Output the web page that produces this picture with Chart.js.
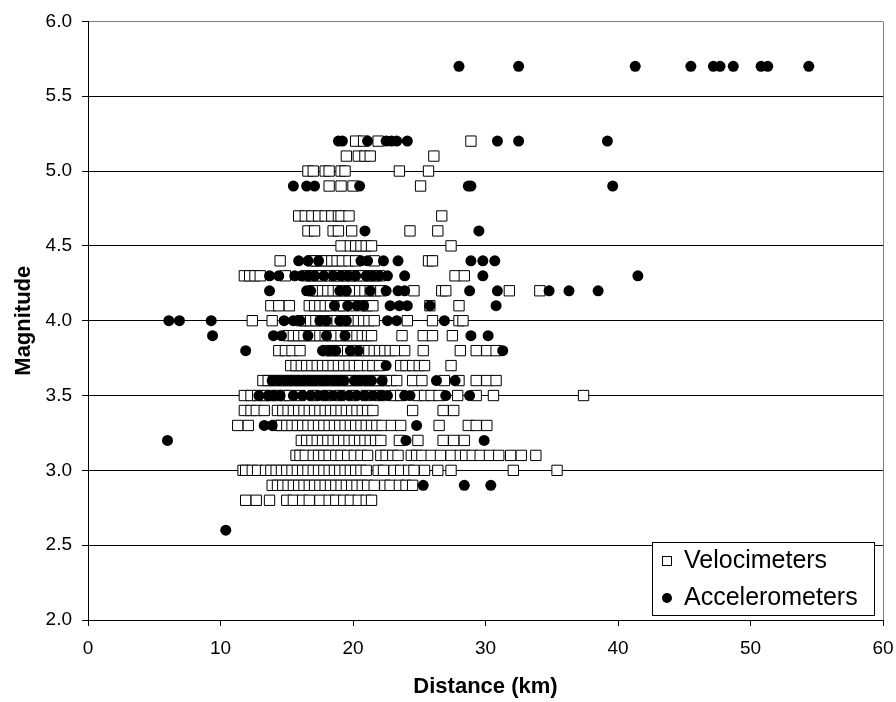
<!DOCTYPE html>
<html>
<head>
<meta charset="utf-8">
<script src="https://cdn.jsdelivr.net/npm/chart.js@4.4.0/dist/chart.umd.min.js"></script>
<style>
  body { margin: 0; background: #fff; }
  canvas { display: block; }
</style>
</head>
<body>
<canvas id="grafico" width="896" height="702"></canvas>
<script>
// Magnitud de cada fila del gráfico (los eventos están en pasos de 0.1)
const magnitudes = [5.7, 5.2, 5.1, 5.0, 4.9, 4.7, 4.6, 4.5, 4.4, 4.3, 4.2, 4.1, 4.0,
  3.9, 3.8, 3.7, 3.6, 3.5, 3.4, 3.3, 3.2, 3.1, 3.0, 2.9, 2.8, 2.6];

// Distancias (km) de los velocímetros, una lista por magnitud
const velDistances = [
  [],
  [20.2, 20.8, 21.9, 28.9],
  [19.5, 20.4, 20.9, 21.3, 26.1],
  [16.6, 17.0, 17.9, 18.2, 19.1, 19.4, 23.5, 25.7],
  [18.2, 19.1, 20.0, 25.1],
  [15.9, 16.4, 16.9, 17.4, 17.9, 18.4, 18.9, 19.1, 19.7, 26.7],
  [16.6, 17.1, 18.5, 18.9, 19.9, 24.3, 26.4],
  [19.1, 19.8, 20.2, 20.6, 21.0, 21.4, 27.4],
  [14.5, 16.9, 17.2, 17.6, 18.0, 18.4, 18.8, 19.2, 19.7, 20.2, 21.6, 25.7, 26.0],
  [11.8, 12.2, 12.6, 13.0, 14.9, 16.5, 16.9, 17.3, 17.7, 18.2, 18.6, 19.0, 19.5, 19.9, 20.3, 20.8, 21.2, 21.6, 22.0, 27.7, 28.4],
  [17.0, 17.3, 17.7, 18.1, 18.5, 18.9, 19.3, 19.7, 20.1, 20.5, 20.9, 21.3, 21.7, 22.1, 24.6, 26.7, 27.0, 31.8, 34.1],
  [13.8, 14.4, 15.2, 16.7, 17.1, 17.5, 17.9, 18.3, 19.0, 19.3, 19.9, 20.7, 21.1, 21.5, 25.8, 28.0],
  [12.4, 13.9, 16.1, 16.4, 16.8, 17.2, 17.6, 18.0, 18.4, 18.8, 19.2, 19.6, 20.0, 20.4, 20.8, 21.2, 21.6, 24.1, 26.0, 28.0, 28.3],
  [15.1, 15.5, 15.9, 16.3, 16.7, 17.1, 17.5, 17.9, 18.3, 18.7, 19.1, 19.5, 19.9, 20.3, 20.7, 21.1, 21.4, 23.7, 25.3, 26.0, 27.5],
  [14.4, 14.9, 15.4, 16.0, 18.0, 18.4, 18.8, 19.2, 19.6, 20.0, 20.4, 20.8, 21.2, 21.6, 22.0, 22.4, 22.8, 23.2, 23.9, 25.3, 28.1, 29.3, 30.1, 30.8],
  [15.3, 15.7, 16.1, 16.5, 16.9, 17.3, 17.7, 18.1, 18.5, 18.9, 19.3, 19.7, 20.1, 20.5, 21.1, 21.5, 22.0, 23.6, 24.0, 24.5, 25.0, 25.4, 27.4],
  [13.2, 13.6, 14.0, 14.4, 14.8, 15.2, 15.6, 16.0, 16.4, 16.8, 17.2, 17.6, 18.0, 18.4, 18.8, 19.2, 19.6, 20.0, 20.4, 20.8, 21.2, 21.6, 22.0, 22.4, 22.9, 23.3, 24.5, 25.2, 26.9, 28.0, 29.3, 30.1, 30.8],
  [11.8, 12.3, 12.8, 13.3, 13.8, 14.3, 14.8, 15.2, 16.0, 17.0, 18.0, 19.0, 20.0, 21.0, 22.0, 23.1, 23.6, 24.9, 25.4, 25.9, 26.5, 27.9, 29.3, 30.6, 37.4],
  [11.8, 12.3, 12.7, 13.3, 14.3, 14.7, 15.1, 15.5, 15.9, 16.3, 16.7, 17.1, 17.5, 17.9, 18.3, 18.7, 19.1, 19.5, 19.9, 20.3, 20.7, 21.1, 21.5, 24.5, 26.8, 27.6],
  [11.3, 12.1, 14.2, 14.6, 15.0, 15.4, 15.8, 16.2, 16.6, 17.0, 17.4, 17.8, 18.2, 18.6, 19.0, 19.4, 19.8, 20.2, 20.6, 21.0, 21.4, 21.8, 22.2, 22.9, 23.6, 26.5, 28.7, 29.3, 30.1],
  [16.1, 16.5, 16.9, 17.3, 17.7, 18.1, 18.5, 18.9, 19.3, 19.7, 20.1, 20.5, 20.9, 21.3, 21.7, 22.1, 23.5, 24.9, 26.8, 27.6, 28.4],
  [15.7, 16.0, 16.4, 17.0, 17.4, 17.8, 18.2, 18.7, 19.1, 19.6, 20.1, 20.6, 21.1, 22.1, 22.5, 23.0, 23.4, 24.4, 24.8, 25.2, 25.9, 26.6, 27.4, 28.1, 28.5, 29.0, 29.6, 30.3, 31.0, 31.9, 32.7, 33.8],
  [11.7, 11.9, 12.4, 12.8, 13.4, 13.8, 14.2, 14.6, 15.0, 15.4, 15.8, 16.2, 16.6, 17.0, 17.4, 17.8, 18.2, 18.6, 19.0, 19.4, 19.8, 20.2, 20.6, 21.0, 21.9, 22.3, 23.1, 23.6, 24.2, 24.6, 25.4, 26.4, 27.4, 32.1, 35.4],
  [13.9, 14.3, 14.7, 15.1, 15.5, 15.9, 16.3, 16.7, 17.1, 17.5, 17.9, 18.3, 18.7, 19.1, 19.5, 19.9, 20.3, 20.7, 21.1, 21.6, 22.4, 22.8, 23.5, 24.0, 24.5],
  [11.9, 12.7, 13.7, 15.0, 15.5, 16.2, 16.7, 17.5, 18.2, 18.7, 19.3, 19.8, 20.4, 21.0, 21.4],
  []
];

// Distancias (km) de los acelerómetros, una lista por magnitud
const accDistances = [
  [28.0, 32.5, 41.3, 45.5, 47.2, 47.7, 48.7, 50.8, 51.3, 54.4],
  [18.9, 19.2, 21.1, 22.5, 22.9, 23.3, 24.1, 30.9, 32.5, 39.2],
  [],
  [],
  [15.5, 16.5, 17.1, 20.5, 28.7, 28.9, 39.6],
  [],
  [20.9, 29.5],
  [],
  [15.9, 16.6, 17.4, 20.6, 21.1, 22.3, 23.4, 28.9, 29.8, 30.7],
  [13.7, 14.4, 15.6, 16.1, 16.6, 17.1, 17.8, 18.5, 19.1, 19.6, 20.2, 21.0, 21.5, 22.0, 22.6, 23.9, 29.8, 41.5],
  [13.7, 16.5, 16.8, 19.0, 19.5, 21.3, 22.5, 23.4, 23.9, 28.8, 30.9, 34.8, 36.3, 38.5],
  [18.6, 19.6, 20.3, 20.8, 22.8, 23.5, 24.1, 25.8, 30.8],
  [6.1, 6.9, 9.3, 14.8, 15.5, 16.0, 17.5, 18.0, 19.0, 19.5, 22.6, 23.3, 26.9],
  [9.4, 14.0, 14.6, 16.6, 18.0, 19.4, 28.9, 30.2],
  [11.9, 17.7, 18.2, 18.7, 19.8, 20.4, 31.3],
  [22.5],
  [13.9, 14.4, 14.9, 15.3, 15.8, 16.2, 16.7, 17.1, 17.6, 18.0, 18.5, 18.9, 19.3, 20.1, 20.5, 21.0, 21.4, 22.2, 26.3, 27.7],
  [12.9, 13.6, 14.0, 14.5, 15.5, 16.2, 16.8, 17.4, 17.9, 18.5, 19.1, 19.7, 20.3, 20.9, 21.5, 22.1, 22.6, 23.9, 24.3, 27.0, 28.8],
  [],
  [13.3, 13.9, 24.8],
  [6.0, 24.0, 29.9],
  [],
  [],
  [25.3, 28.4, 30.4],
  [],
  [10.4]
];

const seriesLabels = ['Velocimeters', 'Accelerometers'];
const xTicks = [0, 10, 20, 30, 40, 50, 60];
const yTicks = [2.0, 2.5, 3.0, 3.5, 4.0, 4.5, 5.0, 5.5, 6.0];

const FUENTE = "'Liberation Sans', Arial, sans-serif";

// Convierte las listas por fila en puntos {x, y}
function aPuntos(listas) {
  const puntos = [];
  listas.forEach(function (fila, i) {
    fila.forEach(function (d) { puntos.push({ x: d, y: magnitudes[i] }); });
  });
  return puntos;
}

// Leyenda dibujada dentro del área del gráfico, abajo a la derecha
const leyendaInterna = {
  id: 'leyendaInterna',
  afterDraw(chart) {
    const ctx = chart.ctx;
    const area = chart.chartArea;
    const x0 = Math.round(area.right) - 231, y0 = Math.round(area.bottom) - 78, w = 222, h = 73;
    ctx.save();
    ctx.fillStyle = '#fff';
    ctx.fillRect(x0, y0, w, h);
    ctx.strokeStyle = '#000';
    ctx.lineWidth = 1;
    ctx.strokeRect(x0 + 0.5, y0 + 0.5, w, h);

    ctx.font = '25px ' + FUENTE;
    ctx.textBaseline = 'middle';
    chart.data.datasets.forEach(function (ds, i) {
      const cy = y0 + 19 + i * 37;
      const cx = x0 + 15;
      if (ds.pointStyle === 'rect') {
        ctx.fillStyle = '#fff';
        ctx.fillRect(cx - 5, cy - 5, 10, 10);
        ctx.strokeRect(cx - 4.5, cy - 4.5, 9, 9);
      } else {
        ctx.beginPath();
        ctx.arc(cx, cy, 5, 0, Math.PI * 2);
        ctx.fillStyle = '#000';
        ctx.fill();
      }
      ctx.fillStyle = '#000';
      ctx.fillText(ds.label, x0 + 32, cy);
    });
    ctx.restore();
  }
};

// Borde gris a la derecha del área del gráfico
const bordeDerecho = {
  id: 'bordeDerecho',
  beforeDatasetsDraw(chart) {
    const ctx = chart.ctx;
    const a = chart.chartArea;
    ctx.save();
    ctx.strokeStyle = '#808080';
    ctx.lineWidth = 1;
    ctx.beginPath();
    ctx.moveTo(Math.round(a.right) + 0.5, a.top);
    ctx.lineTo(Math.round(a.right) + 0.5, a.bottom);
    ctx.stroke();
    ctx.restore();
  }
};

new Chart(document.getElementById('grafico'), {
  type: 'scatter',
  data: {
    datasets: [
      {
        label: seriesLabels[0],
        data: aPuntos(velDistances),
        order: 2,
        pointStyle: 'rect',
        pointRadius: 7.3,
        pointHoverRadius: 7.3,
        backgroundColor: '#fff',
        borderColor: '#000',
        borderWidth: 1
      },
      {
        label: seriesLabels[1],
        data: aPuntos(accDistances),
        order: 1,
        pointStyle: 'circle',
        pointRadius: 5.5,
        pointHoverRadius: 5.5,
        backgroundColor: '#000',
        borderColor: '#000',
        borderWidth: 0
      }
    ]
  },
  options: {
    responsive: false,
    animation: false,
    devicePixelRatio: 1,
    layout: { padding: { top: 19, right: 13, left: 0, bottom: 0 } },
    plugins: {
      legend: { display: false },
      tooltip: { enabled: false }
    },
    scales: {
      x: {
        type: 'linear',
        min: 0,
        max: 60,
        afterBuildTicks(scale) { scale.ticks = xTicks.map(function (v) { return { value: v }; }); },
        afterFit(scale) {
          scale.height = 82;
          scale.paddingLeft = 0;
          scale.paddingRight = 0;
        },
        border: { color: '#000', width: 1 },
        grid: { drawOnChartArea: false, drawTicks: true, tickLength: 6, tickColor: '#000' },
        ticks: {
          color: '#000',
          padding: 11,
          font: { family: FUENTE, size: 19 },
          callback: function (v) { return String(v); }
        },
        title: {
          display: true,
          text: 'Distance (km)',
          color: '#000',
          font: { family: FUENTE, size: 22, weight: 'bold' },
          padding: { top: 0, bottom: 2 }
        }
      },
      y: {
        type: 'linear',
        min: 2,
        max: 6,
        afterBuildTicks(scale) { scale.ticks = yTicks.map(function (v) { return { value: v }; }); },
        afterFit(scale) { scale.width = 88; },
        border: { color: '#000', width: 1 },
        grid: {
          color: function (c) { return c.tick && c.tick.value === 6 ? '#808080' : '#000'; },
          lineWidth: 1,
          drawTicks: true,
          tickLength: 6,
          tickColor: '#000'
        },
        ticks: {
          color: '#000',
          padding: 10,
          font: { family: FUENTE, size: 19 },
          callback: function (v) { return Number(v).toFixed(1); }
        },
        title: {
          display: true,
          text: 'Magnitude',
          color: '#000',
          font: { family: FUENTE, size: 22, weight: 'bold' },
          padding: { top: 11, bottom: 0 }
        }
      }
    }
  },
  plugins: [bordeDerecho, leyendaInterna]
});
</script>
</body>
</html>
